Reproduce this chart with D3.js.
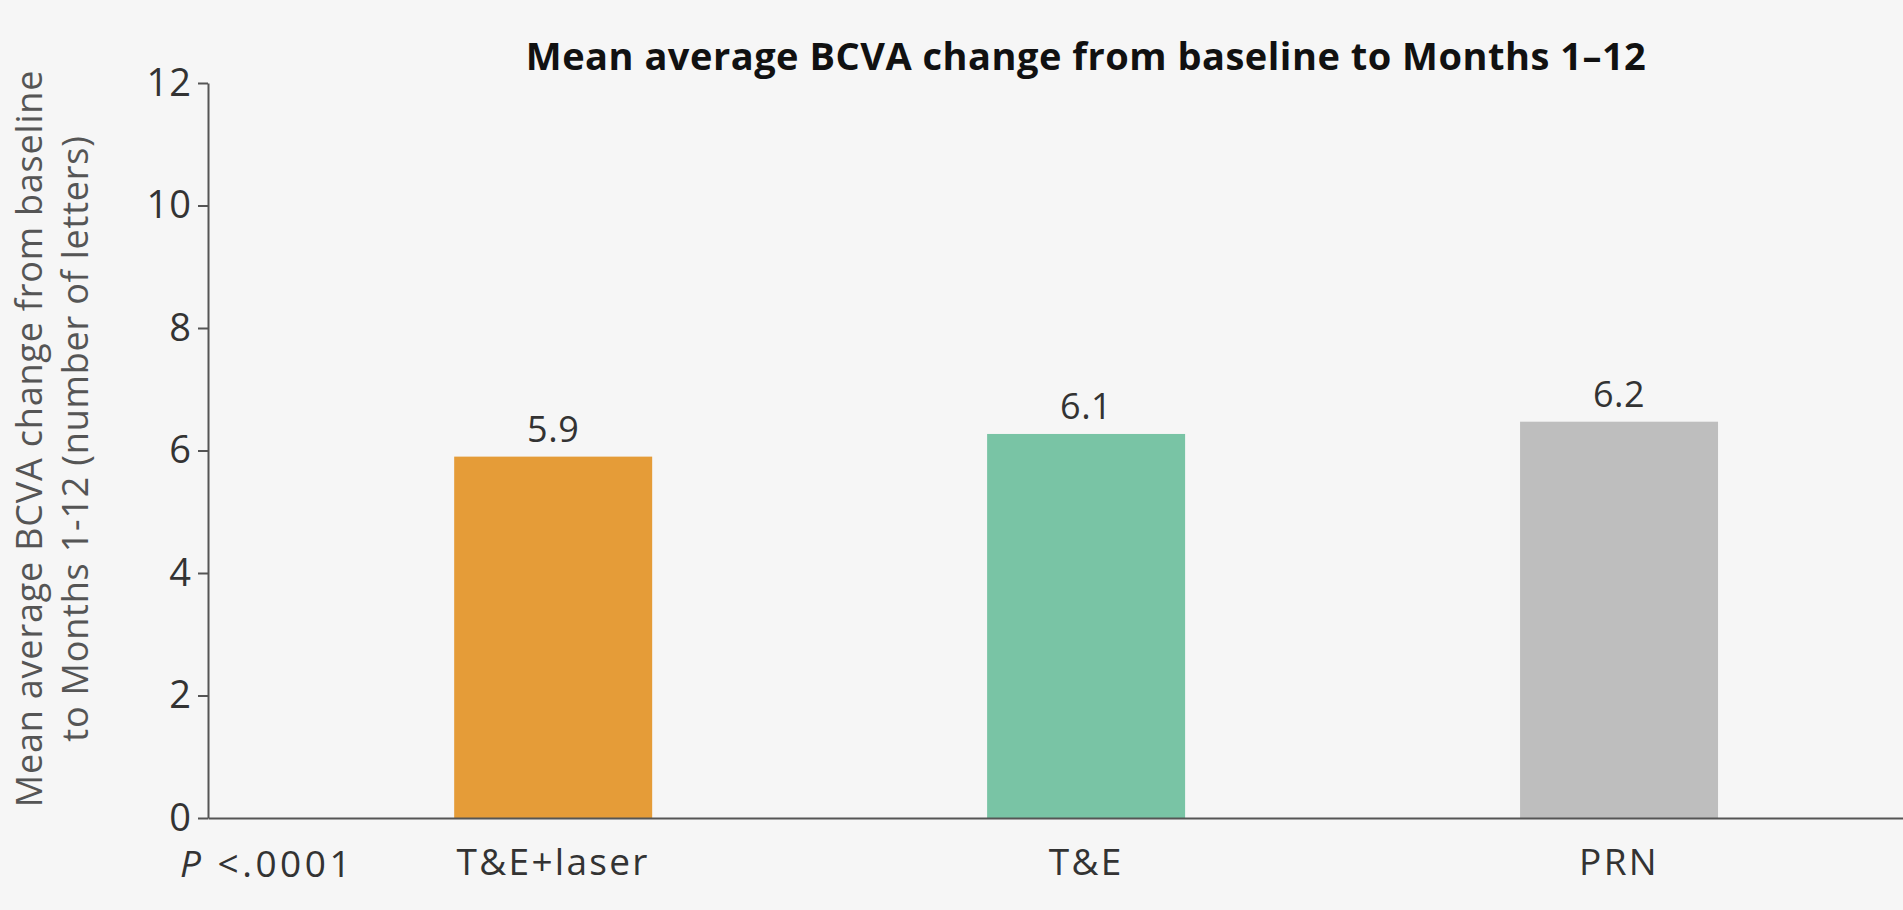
<!DOCTYPE html>
<html>
<head>
<meta charset="utf-8">
<script src="https://cdn.jsdelivr.net/npm/d3@7"></script>
<style>
  html, body { margin: 0; padding: 0; background: #f6f6f6; }
  svg { display: block; }
</style>
</head>
<body>
<svg id="chart"></svg>
<script>
const width = 1903;
const height = 910;

// data
const categories = ['T&E+laser', 'T&E', 'PRN'];
// bar heights as drawn in the source picture
const barValues = [5.9, 6.27, 6.47];
// value labels as printed above the bars
const valueLabels = ['5.9', '6.1', '6.2'];
const barColors = ['#e59c38', '#79c4a5', '#bebebe'];
const yTicks = [0, 2, 4, 6, 8, 10, 12];

const chartTitle = 'Mean average BCVA change from baseline to Months 1\u201312';
const yTitleLines = [
  'Mean average BCVA change from baseline',
  'to Months 1-12 (number of letters)',
];

const FONT = '"Open Sans", "Noto Sans", sans-serif';
const TEXT = '#333';
const AXIS = '#555';

const margin = { top: 83, right: 0, bottom: 92, left: 208 };

const svg = d3.select('#chart')
  .attr('width', width)
  .attr('height', height)
  .style('background', '#f6f6f6');

const yScale = d3.scaleLinear()
  .domain([0, 12])
  .range([height - margin.bottom, margin.top]);

const xScale = d3.scaleBand()
  .domain(categories)
  .range([margin.left, width - margin.right])
  .paddingInner(0.6285)
  .paddingOuter(0.4045)
  .align(0.571);

const y0 = yScale(0);

// bars
const bars = svg.selectAll('.bar')
  .data(categories)
  .enter()
  .append('g')
  .attr('class', 'bar');

bars.append('rect')
  .attr('x', d => xScale(d))
  .attr('width', xScale.bandwidth())
  .attr('y', (d, i) => yScale(barValues[i]))
  .attr('height', (d, i) => y0 - yScale(barValues[i]))
  .attr('fill', (d, i) => barColors[i]);

bars.append('text')
  .attr('x', d => xScale(d) + xScale.bandwidth() / 2)
  .attr('y', (d, i) => yScale(barValues[i]) - 15)
  .attr('text-anchor', 'middle')
  .style('font-family', FONT)
  .style('font-size', '36px')
  .style('letter-spacing', '0.5px')
  .style('fill', TEXT)
  .text((d, i) => valueLabels[i]);

// y axis
const yAxis = d3.axisLeft(yScale)
  .tickValues(yTicks)
  .tickSize(10)
  .tickSizeOuter(0)
  .tickPadding(6);

const yAxisEl = svg.append('g')
  .attr('transform', `translate(${margin.left},0)`)
  .call(yAxis);
yAxisEl.select('.domain').attr('stroke', AXIS).attr('stroke-width', 2);
yAxisEl.selectAll('.tick line').attr('stroke', AXIS).attr('stroke-width', 2);
yAxisEl.selectAll('.tick text')
  .style('font-family', FONT)
  .style('font-size', '38px')
  .style('letter-spacing', '1px')
  .style('fill', TEXT);

// x axis
const xAxis = d3.axisBottom(xScale)
  .tickSize(0)
  .tickSizeOuter(0)
  .tickPadding(31);

const xAxisEl = svg.append('g')
  .attr('transform', `translate(0,${y0})`)
  .call(xAxis);
xAxisEl.select('.domain').attr('stroke', AXIS).attr('stroke-width', 2);
xAxisEl.selectAll('.tick text')
  .style('font-family', FONT)
  .style('font-size', '37px')
  .style('letter-spacing', '2.3px')
  .style('fill', TEXT);

// P value
const pText = svg.append('text')
  .attr('x', 180)
  .attr('y', 877)
  .style('font-family', FONT)
  .style('font-size', '37px')
  .style('letter-spacing', '3.5px')
  .style('fill', TEXT);
pText.append('tspan').style('font-style', 'italic').text('P');
pText.append('tspan').text(' <.0001');

// title
svg.append('text')
  .attr('x', xScale('T&E') + xScale.bandwidth() / 2)
  .attr('y', 70)
  .attr('text-anchor', 'middle')
  .style('font-family', FONT)
  .style('font-weight', 'bold')
  .style('font-size', '38px')
  .style('letter-spacing', '0.5px')
  .style('fill', '#111')
  .text(chartTitle);

// y axis title
const yTitle = svg.append('g')
  .attr('transform', `translate(0,${(yScale(0) + yScale(12)) / 2 - 12})`);
yTitleLines.forEach((line, i) => {
  yTitle.append('text')
    .attr('transform', `translate(${42 + i * 46},0) rotate(-90)`)
    .attr('text-anchor', 'middle')
    .style('font-family', FONT)
    .style('font-size', '36px')
    .style('letter-spacing', '0.8px')
    .style('fill', '#555')
    .text(line);
});
</script>
</body>
</html>
